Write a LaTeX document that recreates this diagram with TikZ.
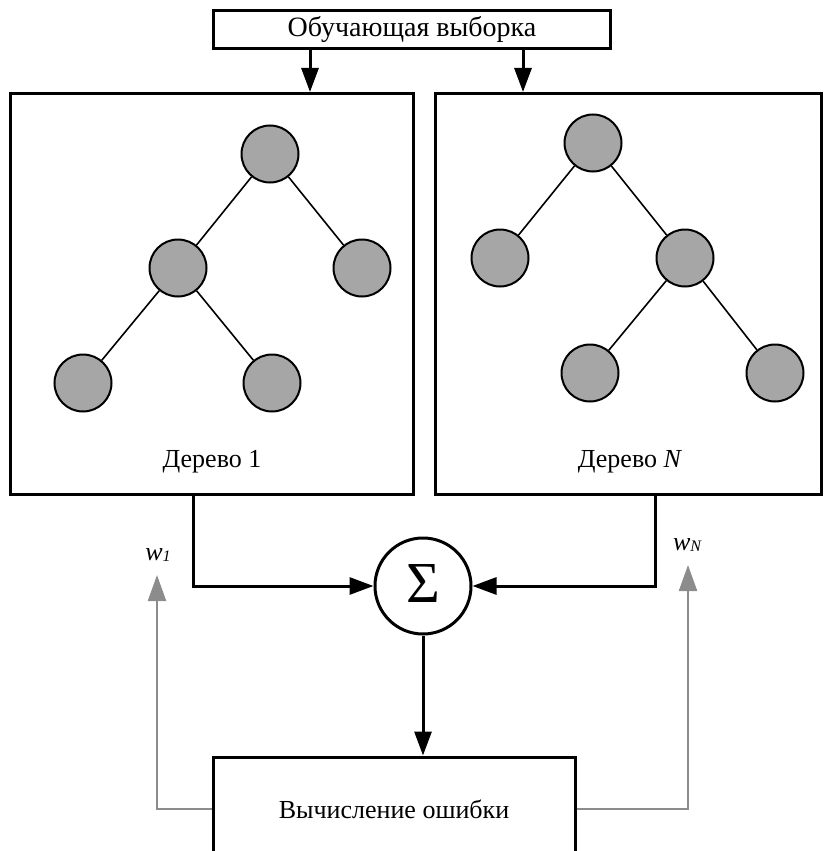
\documentclass[tikz,border=0pt]{standalone}
\usepackage{fontspec}
\setmainfont{Liberation Serif}
\usetikzlibrary{arrows.meta}
\begin{document}
\begin{tikzpicture}[x=1pt,y=-1pt,
  txt/.style={font=\fontsize{26}{29}\selectfont},
  frame/.style={draw,line width=3pt,inner sep=0pt},
  leaf/.style={circle,draw,line width=2pt,fill=black!35,minimum size=57pt,inner sep=0pt},
  edge/.style={line width=1.6pt},
  flow/.style={line width=3pt,-{Triangle[length=24pt,width=17pt]}},
  fb/.style={line width=2.2pt,draw=black!45,-{Triangle[length=26pt,width=18pt]}},
  wlab/.style={font=\fontsize{26}{28}\selectfont\itshape}
]
\useasboundingbox (0,0) rectangle (823,851);
\clip (0,0) rectangle (823,851);

% input data
\node[frame,font=\fontsize{28}{30}\selectfont,minimum width=397pt,minimum height=38pt] (data) at (412,30) {Обучающая выборка};

% tree frames
\node[frame,minimum width=403pt,minimum height=401pt] (t1) at (211.5,294) {};
\node[frame,minimum width=386pt,minimum height=401pt] (tN) at (628.5,294) {};
\node[txt,anchor=base] (l1) at (212,467) {Дерево 1};
\node[txt,anchor=base] (lN) at (630,467) {Дерево \textit{N}};

% first tree
\node[leaf] (a0) at (270,154) {};
\node[leaf] (a1) at (178,268) {};
\node[leaf] (a2) at (362,268) {};
\node[leaf] (a3) at (83,383) {};
\node[leaf] (a4) at (272,383) {};
\draw[edge] (a0) -- (a1) (a0) -- (a2) (a1) -- (a3) (a1) -- (a4);

% last tree
\node[leaf] (b0) at (593,143) {};
\node[leaf] (b1) at (500,258) {};
\node[leaf] (b2) at (685,258) {};
\node[leaf] (b3) at (590,373) {};
\node[leaf] (b4) at (775,373) {};
\draw[edge] (b0) -- (b1) (b0) -- (b2) (b2) -- (b3) (b2) -- (b4);

% sum and error
\node[circle,draw,line width=3pt,minimum size=96pt,inner sep=0pt,font=\fontsize{58}{60}\selectfont] (sum) at (423,586) {\raisebox{4pt}{Σ}};
\node[frame,txt,minimum width=362pt,minimum height=104pt] (err) at (394,809) {Вычисление ошибки};

% data to trees
\coordinate (d1) at (310,48);
\coordinate (d2) at (523,48);
\draw[flow] (d1) -- (d1 |- t1.north);
\draw[flow] (d2) -- (d2 |- tN.north);

% trees to sum
\coordinate (o1) at (193,494);
\coordinate (oN) at (655,494);
\draw[flow] (o1) |- (sum.west);
\draw[flow] (oN) |- (sum.east);
\draw[flow] (sum.south) -- (sum.south |- err.north);

% weight feedback
\coordinate (w1tip) at (157,575);
\coordinate (wNtip) at (688,565);
\draw[fb] (err.west) -| (w1tip);
\draw[fb] (err.east) -| (wNtip);
\node[wlab,anchor=base] (w1) at (158,560) {w\raisebox{-1pt}{\fontsize{16}{17}\selectfont 1}};
\node[wlab,anchor=base] (wN) at (687,550) {w\raisebox{-1pt}{\fontsize{16}{17}\selectfont N}};
\end{tikzpicture}
\end{document}
